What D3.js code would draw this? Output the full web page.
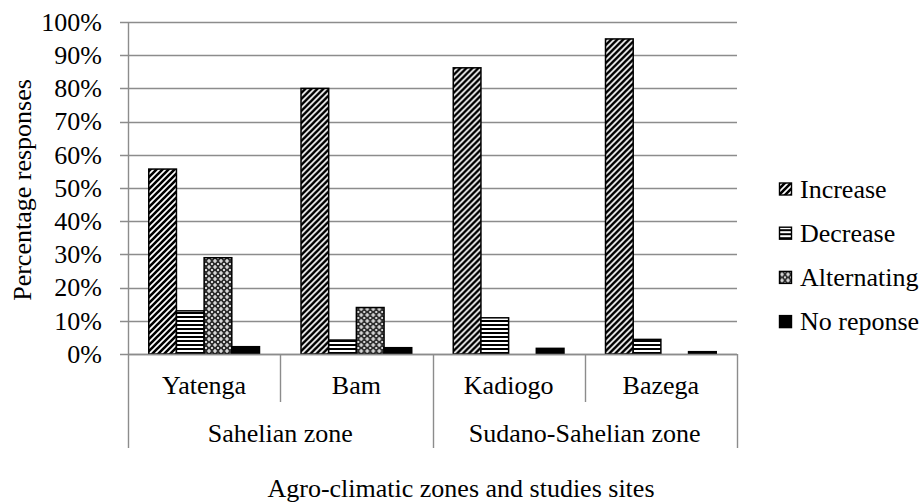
<!DOCTYPE html>
<html>
<head>
<meta charset="utf-8">
<script src="https://cdn.jsdelivr.net/npm/d3@7"></script>
<style>
  html, body { margin: 0; padding: 0; background: #fff; }
  svg { display: block; }
  svg text { font-family: 'Liberation Serif', 'DejaVu Serif', serif; }
</style>
</head>
<body>
<div id="chart"></div>
<script>
const sites = ['Yatenga', 'Bam', 'Kadiogo', 'Bazega'];
const zones = ['Sahelian zone', 'Sudano-Sahelian zone'];
const zoneSpan = [2, 2];
const seriesNames = ['Increase', 'Decrease', 'Alternating', 'No reponse'];
const increase = [0.557, 0.80, 0.862, 0.949];
const decrease = [0.13, 0.042, 0.109, 0.044];
const alternating = [0.29, 0.14, 0, 0];
const noReponse = [0.022, 0.019, 0.017, 0.007];
const yTicks = [0, 0.1, 0.2, 0.3, 0.4, 0.5, 0.6, 0.7, 0.8, 0.9, 1];

const w = 923;
const h = 503;
const plot = { left: 128, right: 737, top: 22, bottom: 354 };
const fontSize = 26;
const fontFamily = "'Liberation Serif', 'DejaVu Serif', serif";
const gridColor = '#8c8c8c';

const seriesValues = [increase, decrease, alternating, noReponse];
const fills = ['url(#patIncrease)', 'url(#patDecrease)', 'url(#patAlternating)', '#000'];

const svg = d3.select('#chart')
	.append('svg')
	.attr('width', w)
	.attr('height', h)
	.attr('font-family', fontFamily);

// patterns
const defs = svg.append('defs');

const pInc = defs.append('pattern')
	.attr('id', 'patIncrease')
	.attr('patternUnits', 'userSpaceOnUse')
	.attr('width', 6)
	.attr('height', 6);
pInc.append('rect').attr('width', 6).attr('height', 6).attr('fill', '#fff');
pInc.append('path')
	.attr('d', 'M-1.5,1.5 l3,-3 M0,6 l6,-6 M4.5,7.5 l3,-3')
	.attr('stroke', '#000')
	.attr('stroke-width', 2.6);

const pDec = defs.append('pattern')
	.attr('id', 'patDecrease')
	.attr('patternUnits', 'userSpaceOnUse')
	.attr('width', 4)
	.attr('height', 4);
pDec.append('rect').attr('width', 4).attr('height', 4).attr('fill', '#fff');
pDec.append('rect').attr('y', 0).attr('width', 4).attr('height', 2).attr('fill', '#000');

const pAlt = defs.append('pattern')
	.attr('id', 'patAlternating')
	.attr('patternUnits', 'userSpaceOnUse')
	.attr('width', 6)
	.attr('height', 6);
pAlt.append('rect').attr('width', 6).attr('height', 6).attr('fill', '#2e2e2e');
pAlt.append('path')
	.attr('d', 'M3,1 v4 M1,3 h4 M0,-1 v2 M-1,0 h2 M6,-1 v2 M5,0 h2 M0,5 v2 M-1,6 h2 M6,5 v2 M5,6 h2')
	.attr('stroke', '#fff')
	.attr('stroke-width', 1.2);

// scales
const y = d3.scaleLinear()
	.domain([0, 1])
	.range([plot.bottom, plot.top]);

const x0 = d3.scaleBand()
	.domain(sites)
	.range([plot.left, plot.right])
	.padding(0);

const x1 = d3.scaleBand()
	.domain(seriesNames)
	.range([0, x0.bandwidth()])
	.paddingInner(0)
	.paddingOuter(0.75);

// gridlines
svg.append('g')
	.selectAll('line')
	.data(yTicks)
	.enter()
	.append('line')
	.attr('x1', plot.left - 8)
	.attr('x2', plot.right)
	.attr('y1', (d) => Math.round(y(d)) + 0.5)
	.attr('y2', (d) => Math.round(y(d)) + 0.5)
	.attr('stroke', gridColor)
	.attr('stroke-width', 1.4);

// y tick labels
svg.append('g')
	.selectAll('text')
	.data(yTicks)
	.enter()
	.append('text')
	.attr('x', 102)
	.attr('y', (d) => y(d))
	.attr('dy', '0.34em')
	.attr('text-anchor', 'end')
	.attr('font-size', fontSize)
	.attr('fill', '#000')
	.text(d3.format('.0%'));

// bars
const groups = svg.append('g')
	.selectAll('g')
	.data(sites)
	.enter()
	.append('g')
	.attr('transform', (d) => 'translate(' + x0(d) + ',0)');

groups.selectAll('rect')
	.data((d, i) => seriesNames.map((s, j) => ({ s: s, j: j, v: seriesValues[j][i] })).filter((e) => e.v > 0))
	.enter()
	.append('rect')
	.attr('x', (d) => x1(d.s))
	.attr('y', (d) => y(d.v))
	.attr('width', x1.bandwidth())
	.attr('height', (d) => y(0) - y(d.v))
	.attr('fill', (d) => fills[d.j])
	.attr('stroke', '#000')
	.attr('stroke-width', 1.5);

// category axis
const axis = svg.append('g')
	.attr('stroke', gridColor)
	.attr('stroke-width', 1.4);

axis.append('line')
	.attr('x1', plot.left + 0.5).attr('x2', plot.left + 0.5)
	.attr('y1', plot.top).attr('y2', 448);

axis.append('line')
	.attr('x1', plot.left).attr('x2', plot.right)
	.attr('y1', plot.bottom + 0.5).attr('y2', plot.bottom + 0.5);

const bounds = sites.map((d) => x0(d)).concat([plot.right]);
const zoneBounds = [0];
zoneSpan.forEach((n, i) => zoneBounds.push(zoneBounds[i] + n));

axis.selectAll('.sep')
	.data(bounds.slice(1))
	.enter()
	.append('line')
	.attr('class', 'sep')
	.attr('x1', (d) => Math.round(d) + 0.5)
	.attr('x2', (d) => Math.round(d) + 0.5)
	.attr('y1', plot.bottom)
	.attr('y2', (d, i) => zoneBounds.indexOf(i + 1) >= 0 ? 448 : 402);

svg.append('g')
	.selectAll('text')
	.data(sites)
	.enter()
	.append('text')
	.attr('x', (d) => x0(d) + x0.bandwidth() / 2)
	.attr('y', 394)
	.attr('text-anchor', 'middle')
	.attr('font-size', fontSize)
	.text((d) => d);

svg.append('g')
	.selectAll('text')
	.data(zones)
	.enter()
	.append('text')
	.attr('x', (d, i) => (bounds[zoneBounds[i]] + bounds[zoneBounds[i + 1]]) / 2)
	.attr('y', 442)
	.attr('text-anchor', 'middle')
	.attr('font-size', fontSize)
	.text((d) => d);

// axis titles
svg.append('text')
	.attr('transform', 'translate(31,190) rotate(-90)')
	.attr('text-anchor', 'middle')
	.attr('font-size', fontSize)
	.text('Percentage responses');

svg.append('text')
	.attr('x', 461)
	.attr('y', 497)
	.attr('text-anchor', 'middle')
	.attr('font-size', fontSize)
	.text('Agro-climatic zones and studies sites');

// legend
const legend = svg.append('g')
	.selectAll('g')
	.data(seriesNames)
	.enter()
	.append('g')
	.attr('transform', (d, i) => 'translate(779,' + (189 + i * 44.2) + ')');

legend.append('rect')
	.attr('x', 0.5)
	.attr('y', -6)
	.attr('width', 12)
	.attr('height', 12)
	.attr('fill', (d, i) => fills[i])
	.attr('stroke', '#000')
	.attr('stroke-width', 1.4);

legend.append('text')
	.attr('x', 21)
	.attr('dy', '0.34em')
	.attr('font-size', fontSize)
	.text((d) => d);
</script>
</body>
</html>
